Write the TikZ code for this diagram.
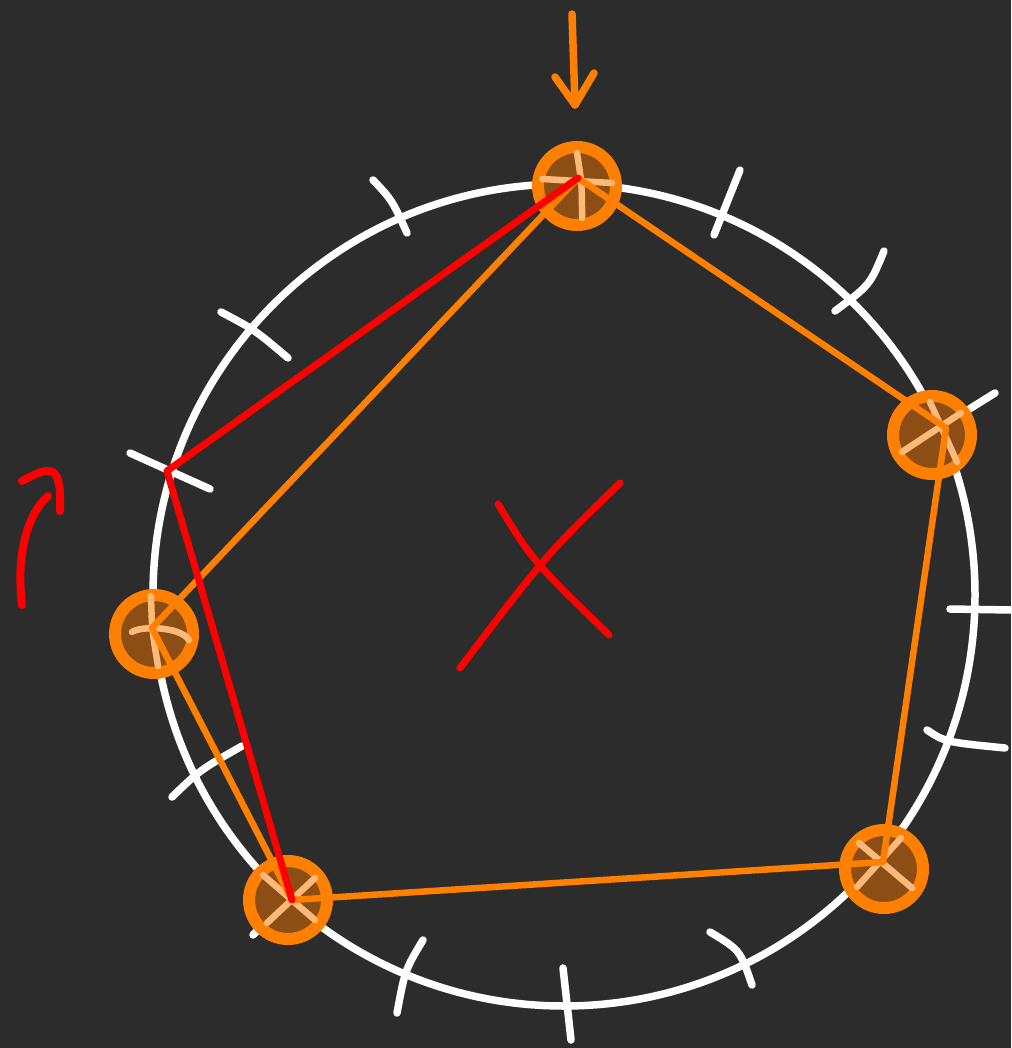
\documentclass[tikz,border=0pt]{standalone}
\definecolor{orng}{RGB}{255,128,0}
\definecolor{brn}{RGB}{140,78,20}
\definecolor{cream}{RGB}{255,186,122}
\definecolor{bgc}{RGB}{44,44,44}
\begin{document}
\begin{tikzpicture}[x=1pt,y=-1pt,
  wl/.style={draw=white,line width=7.5pt,line cap=round},
  ol/.style={draw=orng,line width=6.5pt,line cap=round,line join=round},
  rl/.style={draw=red,line width=7pt,line cap=round,line join=round},
  vtx/.style={circle,draw=orng,fill=brn,line width=12pt,minimum size=78pt,inner sep=0pt},
  cr/.style={draw=cream,line width=6.5pt,line cap=round}]
\fill[bgc] (0,0) rectangle (1011,1048);
\useasboundingbox (0,0) rectangle (1011,1048);

% big circle
\coordinate (ctr) at (564,595);
\draw[wl] (ctr) circle[radius=411];

% ticks
\draw[wl] (373,180) .. controls (392,200) .. (407,233);
\draw[wl] (740,170) -- (714,235);
\draw[wl] (884,251) .. controls (870,285) .. (835,311);
\draw[wl] (995,393) -- (955,418);
\draw[wl] (950,609) -- (1011,610);
\draw[wl] (927,730) .. controls (945,742) .. (1005,748);
\draw[wl] (710,932) .. controls (740,950) .. (752,985);
\draw[wl] (563,968) -- (571,1040);
\draw[wl] (423,940) .. controls (405,970) .. (397,1013);
\draw[wl] (253,935) -- (295,892);
\draw[wl] (172,797) .. controls (200,770) .. (242,746);
\draw[wl] (130,453) -- (210,489);
\draw[wl] (221,312) .. controls (255,330) .. (288,358);

% nodes
\node[vtx] (nA) at (577,186) {};
\node[vtx] (nB) at (932,435) {};
\node[vtx] (nC) at (884,869) {};
\node[vtx] (nD) at (288,900) {};
\node[vtx] (nE) at (154,634) {};

% cream marks inside nodes
\draw[cr] (577,153) .. controls (582,185) .. (582,218);
\draw[cr] (542,179) -- (612,183);
\draw[cr] (930,402) -- (957,462);
\draw[cr] (902,452) -- (961,413);
\draw[cr] (859,843) -- (912,888);
\draw[cr] (857,887) -- (901,838);
\draw[cr] (263,875) -- (315,920);
\draw[cr] (267,923) -- (315,878);
\draw[cr] (151,596) .. controls (152,630) .. (158,666);
\draw[cr] (132,632) .. controls (140,626) and (180,626) .. (189,640);

% polygon vertices
\coordinate (vA) at (578,178);
\coordinate (vB) at (946,428);
\coordinate (vC) at (883,862);
\coordinate (vD) at (292,900);
\coordinate (vE) at (152,628);
\coordinate (vR) at (167,471);

\draw[ol] (vA) -- (vB) -- (vC) -- (vD) -- (vE) -- cycle;
\draw[rl] (vA) -- (vR) -- (vD);

% top arrow
\coordinate (arS) at (572,14);
\coordinate (arT) at (575,105);
\draw[ol,line width=7.5pt] (arS) -- (arT);
\draw[ol,line width=7.5pt] (555,77) -- (arT) -- (594,73);

% red rotation arrow
\coordinate (raS) at (22,605);
\coordinate (raE) at (48,496);
\draw[rl,line width=8pt] (raS) .. controls (16,555) and (27,515) .. (raE);
\draw[rl,line width=8pt] (22,481) .. controls (50,466) and (62,462) .. (60,511);

% red cross
\draw[rl] (460,668) .. controls (546,555) .. (620,483);
\draw[rl] (498,504) .. controls (532,560) .. (609,635);
\end{tikzpicture}
\end{document}
